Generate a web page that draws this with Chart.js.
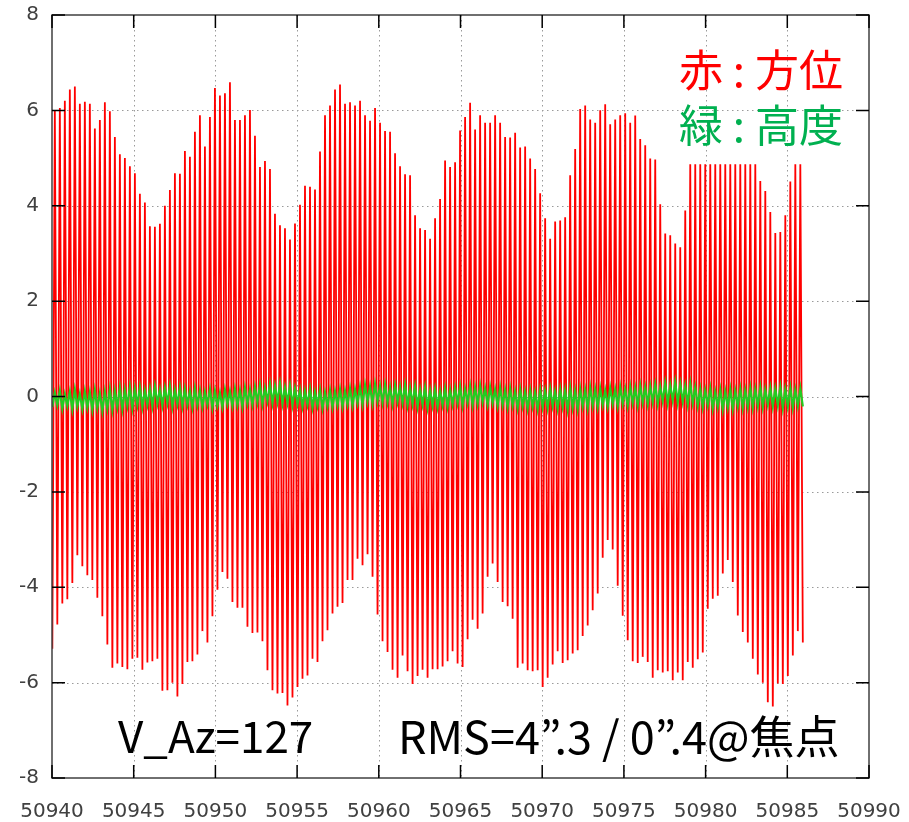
<!DOCTYPE html>
<html>
<head>
<meta charset="utf-8">
<script src="https://cdn.jsdelivr.net/npm/chart.js@4/dist/chart.umd.min.js"></script>
<style>
  body { margin: 0; background: #fff; }
  #wrap { position: relative; width: 909px; height: 822px; }
  .note { position: absolute; white-space: pre; line-height: 1; font-family: "Noto Sans CJK JP", sans-serif; }
</style>
</head>
<body>
<div id="wrap">
  <canvas id="chart" width="909" height="822"></canvas>
  <div class="note" style="left:679px; top:46px; font-size:44px; color:#ff0000;">赤 : 方位</div>
  <div class="note" style="left:679px; top:101px; font-size:44px; color:#00b050;">緑 : 高度</div>
  <div class="note" style="left:118px; top:712px; font-size:44px; color:#000;">V_Az=127</div>
  <div class="note" style="left:398px; top:712px; font-size:45px; color:#000;">RMS=4”.3 / 0”.4@焦点</div>
</div>
<script>
// sample grid (half a wobble per step)
const t0 = 50940.02;
const dt = 0.1531;

const xTicks = [50940, 50945, 50950, 50955, 50960, 50965, 50970, 50975, 50980, 50985, 50990];
const yTicks = [-8, -6, -4, -2, 0, 2, 4, 6, 8];

// azimuth (red): upper swing tops
const azPeaks = [
  6.0, 6.05, 6.2, 6.44, 6.5, 6.14, 6.18, 6.14, 5.62, 5.8,
  6.17, 5.98, 5.44, 5.08, 5.0, 4.83, 4.68, 4.25, 4.07, 3.57,
  3.56, 3.62, 4.0, 4.33, 4.68, 4.67, 5.15, 5.03, 5.55, 5.9,
  5.24, 5.86, 6.47, 6.31, 6.36, 6.59, 5.8, 5.8, 5.9, 6.01,
  5.47, 4.81, 4.94, 4.77, 3.83, 3.59, 3.53, 3.29, 3.63, 4.02,
  4.42, 4.4, 4.34, 5.14, 5.9, 6.1, 6.44, 6.54, 6.14, 6.17,
  6.1, 6.2, 5.9, 5.78, 6.05, 5.74, 5.57, 5.55, 5.1, 4.83,
  4.66, 4.64, 3.8, 3.53, 3.49, 3.31, 3.74,
  4.14, 4.95, 4.81, 4.91, 5.58, 5.86, 6.16, 5.6, 5.9, 5.74,
  5.74, 5.9, 5.74, 5.44, 5.43, 5.53, 5.22, 5.24, 4.99, 4.77,
  4.26, 3.74, 3.31, 3.67, 3.69, 3.76, 4.64, 5.19, 6.03, 6.1,
  5.81, 5.74, 6.0, 6.13, 5.71, 5.81, 5.9, 5.94, 5.74, 5.89,
  5.4, 5.27, 4.99, 4.97, 4.03, 3.42, 3.38, 3.21, 3.13, 3.9,
  4.87, 4.87, 4.87, 4.87, 4.87, 4.87, 4.87, 4.87, 4.87, 4.87,
  4.87, 4.87, 4.87, 4.87,
  4.52, 4.31, 3.87, 3.43, 3.45, 3.8, 4.51, 4.87, 4.87
];

// azimuth (red): lower swing bottoms
const azDips = [
  -5.29, -4.78, -4.34, -4.25, -3.91, -3.33, -3.56, -3.75, -3.85, -4.22,
  -4.61, -5.2, -5.69, -5.6, -5.67, -5.72, -5.5, -5.48, -5.73, -5.58,
  -5.55, -5.5, -6.17, -6.16, -6.0, -6.29, -6.03, -5.57, -5.55, -5.41,
  -4.92, -5.16, -4.61, -4.05, -3.68, -3.82, -4.31, -4.43, -4.43, -4.83,
  -4.96, -4.95, -5.13, -5.74, -6.16, -6.23, -6.22, -6.48, -6.31, -6.09,
  -5.92, -5.85, -5.5, -5.57, -5.13, -4.9, -4.55, -4.41, -4.33, -3.85,
  -3.85, -3.4, -3.54, -3.31, -3.78, -4.57, -5.13, -5.36, -5.73, -5.9,
  -5.43, -5.76, -6.03, -5.86, -5.73, -5.9, -5.72,
  -5.72, -5.66, -5.55, -5.34, -5.6, -5.67, -5.09, -4.68, -4.87, -4.55,
  -3.78, -3.5, -3.89, -4.31, -4.4, -4.66, -5.69, -5.6, -5.74, -5.76,
  -5.74, -6.09, -5.9, -5.62, -5.34, -5.59, -5.53, -5.39, -5.32,
  -5.02, -4.8, -4.48, -4.13, -3.38, -3.01, -3.21, -3.97, -4.6, -5.11,
  -5.55, -5.59, -5.46, -5.57, -5.9, -5.74, -5.79, -5.76, -5.95, -5.79,
  -5.95, -5.57, -5.69, -5.51, -5.37, -4.45, -4.24, -4.18, -3.71, -3.43,
  -3.89, -4.59, -4.94, -5.16, -5.5, -5.83, -6.0, -6.41, -6.5, -6.02,
  -6.03, -5.86, -5.43, -4.92, -5.16
];

// elevation (green): upper and lower swings
const elHigh = [
  0.08, 0.12, 0.05, 0.10, 0.14, 0.06, 0.11, 0.09, 0.13, 0.07,
  0.10, 0.15, 0.12, 0.18, 0.14, 0.20, 0.16, 0.19, 0.13, 0.17,
  0.21, 0.15, 0.18, 0.22, 0.14, 0.19, 0.16, 0.12, 0.17, 0.13,
  0.10, 0.15, 0.12, 0.08, 0.14, 0.11, 0.16, 0.13, 0.18, 0.15,
  0.20, 0.24, 0.18, 0.26, 0.22, 0.27, 0.19, 0.23, 0.17, 0.14,
  0.12, 0.16, 0.10, 0.14, 0.09, 0.13, 0.11, 0.15, 0.12, 0.17,
  0.15, 0.20, 0.24, 0.21, 0.26, 0.22, 0.25, 0.19, 0.23, 0.20,
  0.24, 0.18, 0.21, 0.15, 0.19, 0.13, 0.16, 0.12, 0.17, 0.14,
  0.18, 0.21, 0.16, 0.22, 0.19, 0.23, 0.17, 0.20, 0.15, 0.19,
  0.14, 0.17, 0.11, 0.15, 0.10, 0.13, 0.09, 0.14, 0.12, 0.16,
  0.11, 0.15, 0.13, 0.18, 0.12, 0.16, 0.14, 0.19, 0.15, 0.17,
  0.13, 0.18, 0.15, 0.20, 0.16, 0.21, 0.18, 0.23, 0.19, 0.22,
  0.25, 0.21, 0.28, 0.24, 0.30, 0.26, 0.22, 0.27, 0.19, 0.16,
  0.13, 0.17, 0.10, 0.14, 0.11, 0.15, 0.12, 0.16, 0.13, 0.18,
  0.15, 0.19, 0.14, 0.18, 0.16, 0.20, 0.15, 0.18, 0.14, 0.17
];
const elLow = [
  -0.22, -0.18, -0.25, -0.20, -0.27, -0.21, -0.26, -0.23, -0.28, -0.24,
  -0.30, -0.25, -0.28, -0.22, -0.26, -0.19, -0.24, -0.18, -0.22, -0.17,
  -0.20, -0.15, -0.19, -0.14, -0.21, -0.16, -0.20, -0.17, -0.22, -0.18,
  -0.21, -0.17, -0.23, -0.19, -0.22, -0.16, -0.20, -0.18, -0.21, -0.15,
  -0.17, -0.12, -0.16, -0.10, -0.14, -0.11, -0.15, -0.13, -0.18, -0.16,
  -0.21, -0.17, -0.23, -0.19, -0.24, -0.20, -0.22, -0.18, -0.21, -0.17,
  -0.19, -0.14, -0.17, -0.11, -0.15, -0.10, -0.13, -0.12, -0.16, -0.11,
  -0.14, -0.18, -0.16, -0.21, -0.17, -0.23, -0.19, -0.22, -0.18, -0.21,
  -0.17, -0.14, -0.19, -0.13, -0.18, -0.15, -0.12, -0.17, -0.14, -0.19,
  -0.18, -0.22, -0.19, -0.24, -0.20, -0.25, -0.21, -0.26, -0.22, -0.24,
  -0.20, -0.25, -0.21, -0.27, -0.23, -0.26, -0.20, -0.24, -0.19, -0.22,
  -0.18, -0.21, -0.16, -0.20, -0.15, -0.19, -0.14, -0.18, -0.13, -0.16,
  -0.12, -0.15, -0.10, -0.14, -0.09, -0.13, -0.11, -0.16, -0.14, -0.19,
  -0.22, -0.18, -0.25, -0.21, -0.27, -0.22, -0.26, -0.20, -0.24, -0.21,
  -0.23, -0.19, -0.22, -0.17, -0.21, -0.18, -0.24, -0.20, -0.23, -0.19,
  -0.21
];

// interleave low/high swings onto the sample grid
const zigzag = (lows, highs) => {
  const pts = [];
  for (let i = 0; i < lows.length; i++) {
    pts.push({ x: t0 + 2 * i * dt, y: lows[i] });
    if (i < highs.length) pts.push({ x: t0 + (2 * i + 1) * dt, y: highs[i] });
  }
  return pts;
};

// gnuplot-ish frame: dotted grid under the data, box + inward ticks on top
const frame = {
  id: 'frame',
  beforeDatasetsDraw(chart) {
    const { ctx, chartArea: a, scales: { x, y } } = chart;
    ctx.save();
    ctx.strokeStyle = '#9a9a9a';
    ctx.lineWidth = 1;
    ctx.setLineDash([1.5, 3.5]);
    ctx.beginPath();
    xTicks.slice(1, -1).forEach(v => {
      const px = Math.round(x.getPixelForValue(v)) + 0.5;
      ctx.moveTo(px, a.top); ctx.lineTo(px, a.bottom);
    });
    yTicks.slice(1, -1).forEach(v => {
      const py = Math.round(y.getPixelForValue(v)) + 0.5;
      ctx.moveTo(a.left, py); ctx.lineTo(a.right, py);
    });
    ctx.stroke();
    ctx.restore();
  },
  afterDatasetsDraw(chart) {
    const { ctx, chartArea: a, scales: { x, y } } = chart;
    ctx.save();
    ctx.strokeStyle = '#404040';
    ctx.lineWidth = 1.5;
    ctx.strokeRect(a.left, a.top, a.right - a.left, a.bottom - a.top);
    ctx.strokeStyle = '#000';
    ctx.beginPath();
    yTicks.forEach(v => {
      const py = y.getPixelForValue(v);
      ctx.moveTo(a.left, py); ctx.lineTo(a.left + 13, py);
      ctx.moveTo(a.right, py); ctx.lineTo(a.right - 13, py);
    });
    xTicks.forEach(v => {
      const px = x.getPixelForValue(v);
      ctx.moveTo(px, a.bottom); ctx.lineTo(px, a.bottom - 13);
      ctx.moveTo(px, a.top); ctx.lineTo(px, a.top + 13);
    });
    ctx.stroke();
    ctx.restore();
  }
};

new Chart(document.getElementById('chart'), {
  type: 'line',
  data: {
    datasets: [
      {
        label: '高度',
        data: zigzag(elLow, elHigh),
        borderColor: '#22cc22',
        borderWidth: 2.2,
        pointRadius: 0,
        tension: 0,
        order: 0
      },
      {
        label: '方位',
        data: zigzag(azDips, azPeaks),
        borderColor: '#ff0000',
        borderWidth: 1.8,
        pointRadius: 0,
        tension: 0,
        order: 1
      }
    ]
  },
  options: {
    responsive: false,
    animation: false,
    layout: { padding: { top: 15, right: 40, left: 0, bottom: 0 } },
    plugins: { legend: { display: false }, tooltip: { enabled: false } },
    scales: {
      x: {
        type: 'linear',
        min: 50940,
        max: 50990,
        grid: { display: false, drawTicks: false },
        border: { display: false },
        afterFit: (s) => { s.height = 44; s.paddingLeft = 0; s.paddingRight = 0; },
        ticks: {
          stepSize: 5,
          padding: 22,
          color: '#404040',
          font: { family: 'DejaVu Sans', size: 20 },
          maxRotation: 0,
          callback: (v) => String(v)
        }
      },
      y: {
        min: -8,
        max: 8,
        grid: { display: false, drawTicks: false },
        border: { display: false },
        afterFit: (s) => { s.width = 52; s.paddingTop = 0; s.paddingBottom = 0; },
        ticks: {
          stepSize: 2,
          padding: 13,
          color: '#404040',
          font: { family: 'DejaVu Sans', size: 20 }
        }
      }
    }
  },
  plugins: [frame]
});
</script>
</body>
</html>
